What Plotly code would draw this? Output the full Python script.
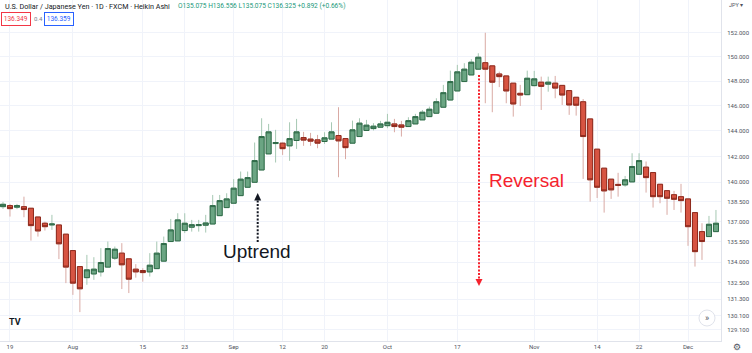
import pandas as pd
import plotly.graph_objects as go

# ---------------- data (Heikin Ashi, USD/JPY daily) ----------------
start_day = "2022-07-18"
n_bars = 103
dates = pd.bdate_range(start_day, periods=n_bars) + pd.Timedelta(hours=12)

opens = [138.14, 138.22, 138.10, 138.14, 138.02, 137.36, 136.89, 136.76, 136.76, 136.07,
         134.85, 133.67, 132.86, 133.13, 133.28, 133.63, 134.29, 134.66, 134.24, 133.48,
         133.38, 133.28, 133.52, 134.07, 135.52, 135.57, 136.34, 136.59, 136.71, 136.74,
         136.83, 137.46, 138.07, 138.40, 138.98, 139.62, 140.00, 140.95, 142.20, 143.01,
         143.04, 142.83, 143.25, 143.48, 143.36, 143.30, 143.17, 143.36, 143.64, 143.40,
         143.04, 143.56, 144.04, 144.19, 144.30, 144.42, 144.56, 144.48, 144.35, 144.56,
         144.88, 145.14, 145.41, 145.89, 146.47, 147.20, 147.96, 148.50, 148.97, 149.50,
         149.24, 148.58, 148.42, 147.83, 147.01, 146.90, 147.63, 147.91, 147.75, 147.83,
         147.65, 147.23, 146.69, 146.33, 144.96, 142.57, 141.09, 140.24, 139.84, 139.80,
         140.03, 140.62, 141.17, 140.75, 139.85, 139.36, 139.05, 138.90, 138.73, 137.69,
         136.26, 135.89, 136.26]
highs = [138.50, 138.35, 138.35, 138.90, 138.02, 137.36, 137.01, 137.52, 136.76, 136.07,
         134.85, 133.67, 134.53, 134.36, 135.03, 135.52, 135.15, 135.40, 134.24, 133.85,
         133.55, 134.66, 135.52, 135.89, 137.21, 137.64, 137.64, 137.14, 137.14, 137.52,
         139.03, 139.03, 139.16, 140.24, 140.83, 140.83, 143.09, 145.01, 144.56, 144.09,
         143.09, 144.69, 144.96, 143.93, 143.85, 143.69, 143.90, 144.69, 145.89, 143.40,
         144.82, 145.01, 144.88, 144.62, 144.80, 145.36, 144.96, 144.80, 145.09, 145.36,
         145.67, 145.94, 146.61, 147.69, 148.85, 149.32, 149.46, 149.79, 150.28, 151.98,
         149.24, 148.77, 148.42, 147.83, 147.69, 148.85, 148.83, 148.36, 148.36, 148.42,
         147.65, 147.23, 146.69, 146.55, 144.96, 142.57, 141.09, 140.24, 140.73, 140.49,
         142.25, 142.25, 141.61, 140.75, 139.85, 139.36, 139.34, 139.88, 138.73, 137.69,
         136.89, 137.44, 137.89]
lows = [137.97, 137.39, 137.95, 137.34, 135.59, 135.89, 136.34, 136.39, 134.22, 132.46,
        131.61, 130.37, 132.34, 132.70, 132.94, 133.63, 134.16, 132.03, 131.74, 132.86,
        132.57, 132.94, 133.52, 134.07, 135.52, 135.57, 136.15, 136.26, 136.26, 136.19,
        136.83, 137.46, 138.07, 138.40, 138.98, 139.62, 140.00, 140.95, 142.20, 141.53,
        142.12, 141.66, 142.59, 142.83, 142.83, 142.64, 142.98, 143.36, 140.39, 141.79,
        143.04, 143.56, 144.04, 144.04, 144.27, 144.22, 143.90, 143.56, 144.35, 144.56,
        144.88, 145.14, 145.41, 145.89, 146.47, 147.20, 147.96, 148.50, 148.97, 146.21,
        145.49, 147.51, 146.21, 145.14, 145.99, 146.90, 147.57, 145.67, 147.14, 146.61,
        146.07, 145.28, 145.22, 140.26, 138.52, 138.80, 137.69, 138.73, 138.90, 139.66,
        140.03, 140.62, 139.21, 138.07, 138.40, 137.52, 137.89, 137.69, 135.20, 133.67,
        134.16, 135.89, 136.26]
closes = [138.32, 137.99, 138.22, 137.92, 136.71, 136.31, 136.63, 136.83, 135.35, 133.63,
          132.46, 132.05, 133.43, 133.48, 133.97, 135.00, 134.95, 133.80, 132.75, 133.28,
          133.23, 133.77, 134.66, 135.37, 136.39, 137.14, 136.89, 136.78, 136.78, 136.91,
          138.22, 138.60, 138.73, 139.55, 140.24, 140.36, 141.68, 143.56, 143.93, 143.09,
          142.61, 143.40, 143.93, 143.28, 143.20, 143.04, 143.46, 143.93, 143.22, 142.69,
          144.09, 144.62, 144.46, 144.38, 144.56, 144.69, 144.35, 144.30, 144.82, 145.14,
          145.49, 145.73, 146.33, 147.06, 147.96, 148.75, 148.97, 149.54, 149.95, 148.97,
          147.91, 148.36, 147.20, 146.15, 146.87, 148.23, 148.18, 147.57, 147.91, 147.43,
          146.87, 146.07, 146.05, 143.56, 140.19, 139.62, 139.34, 139.42, 139.77, 140.19,
          141.22, 141.68, 140.36, 138.90, 138.90, 138.78, 138.70, 138.60, 136.63, 134.77,
          135.52, 136.81, 136.89]

y_tick_vals = [152, 150, 148, 146, 144, 142, 140, 138.5, 137, 135.5, 134, 132.5, 131.3, 130.1, 129.1]
y_tick_text = [f"{v:.3f}" for v in y_tick_vals]
x_tick_dates = ["2022-07-19", "2022-08-01", "2022-08-15", "2022-08-23", "2022-09-01",
                "2022-09-12", "2022-09-20", "2022-10-03", "2022-10-17", "2022-11-01",
                "2022-11-14", "2022-11-22", "2022-12-01"]
x_tick_text = ["19", "Aug", "15", "23", "Sep", "12", "20", "Oct", "17", "Nov", "14", "22", "Dec"]

# ---------------- style ----------------
UP_FILL, UP_LINE, UP_WICK = "#6ba583", "#2f6a48", "#a6c8b3"
DN_FILL, DN_LINE, DN_WICK = "#d75442", "#8e2a1d", "#d9aaa4"
GRID = "#f0f3fa"
AX = "#e0e3eb"
TXT = "#131722"
W, H = 752, 353
PL_W, PL_H = 721, 341  # plot area size in px


def px(x):
    return x / PL_W


def py(y):
    return 1 - y / PL_H


body_hi = [max(o, c) for o, c in zip(opens, closes)]
body_lo = [min(o, c) for o, c in zip(opens, closes)]

fig = go.Figure()
# wicks (light)
fig.add_trace(go.Candlestick(
    x=dates, open=opens, high=highs, low=lows, close=closes,
    increasing=dict(line=dict(color=UP_WICK, width=1), fillcolor=UP_WICK),
    decreasing=dict(line=dict(color=DN_WICK, width=1), fillcolor=DN_WICK),
    hoverinfo="skip", showlegend=False))
# bodies
fig.add_trace(go.Candlestick(
    x=dates, open=opens, high=body_hi, low=body_lo, close=closes,
    increasing=dict(line=dict(color=UP_LINE, width=1), fillcolor=UP_FILL),
    decreasing=dict(line=dict(color=DN_LINE, width=1), fillcolor=DN_FILL),
    showlegend=False))

x_start = dates[0] - pd.Timedelta(hours=10.3)
x_end = dates[-1] + pd.Timedelta(hours=17.3)

fig.update_layout(
    width=W, height=H,
    margin=dict(l=0, r=W - PL_W, t=0, b=H - PL_H),
    paper_bgcolor="white", plot_bgcolor="white",
    boxgap=0.15, boxgroupgap=0.15,
    showlegend=False,
    font=dict(family="Roboto, Arial, sans-serif", color=TXT),
    xaxis=dict(
        type="date", range=[x_start, x_end],
        rangebreaks=[dict(bounds=["sat", "mon"])],
        rangeslider=dict(visible=False),
        tickmode="array",
        tickvals=[pd.Timestamp(d) + pd.Timedelta(hours=12) for d in x_tick_dates],
        ticktext=x_tick_text,
        showgrid=True, gridcolor=GRID, gridwidth=1,
        showline=True, linecolor=AX, linewidth=1,
        ticks="", tickfont=dict(size=6, color="#50535e"),
        zeroline=False, fixedrange=True),
    yaxis=dict(
        type="log", side="right",
        range=[2.10829, 2.18959],
        tickmode="array", tickvals=y_tick_vals, ticktext=y_tick_text,
        showgrid=True, gridcolor=GRID, gridwidth=1,
        showline=True, linecolor=AX, linewidth=1,
        ticks="", ticklabelstandoff=4,
        tickfont=dict(size=6, color="#50535e"),
        zeroline=False, fixedrange=True),
)

shapes = []
# black dotted arrow (Uptrend)
shapes.append(dict(type="line", xref="paper", yref="paper",
                   x0=px(257.7), x1=px(257.7), y0=py(242), y1=py(200),
                   line=dict(color=TXT, width=2, dash="2px,1.6px")))
shapes.append(dict(type="path", xref="paper", yref="paper",
                   path=f"M {px(257.7)},{py(193)} L {px(254.2)},{py(200.5)} L {px(261.2)},{py(200.5)} Z",
                   fillcolor=TXT, line=dict(width=0)))
# red dotted arrow (Reversal)
RED = "#f5222d"
shapes.append(dict(type="line", xref="paper", yref="paper",
                   x0=px(479), x1=px(479), y0=py(75), y1=py(279),
                   line=dict(color=RED, width=2, dash="2px,1.6px")))
shapes.append(dict(type="path", xref="paper", yref="paper",
                   path=f"M {px(479)},{py(286)} L {px(475.5)},{py(279)} L {px(482.5)},{py(279)} Z",
                   fillcolor=RED, line=dict(width=0)))
# scroll button circle
shapes.append(dict(type="circle", xref="paper", yref="paper",
                   x0=px(699), x1=px(715), y0=py(326), y1=py(310),
                   fillcolor="white", line=dict(color="#e0e3eb", width=1)))
fig.update_layout(shapes=shapes)

ann = []
ann.append(dict(xref="paper", yref="paper", x=px(3), y=py(6.5), xanchor="left", yanchor="middle",
                text="U.S. Dollar / Japanese Yen · 1D · FXCM · Heikin Ashi", showarrow=False,
                font=dict(size=7.2, color=TXT)))
ann.append(dict(xref="paper", yref="paper", x=px(176), y=py(6.5), xanchor="left", yanchor="middle",
                text="O135.075 H136.556 L135.075 C136.325 +0.892 (+0.66%)", showarrow=False,
                font=dict(size=6.6, color="#22997a")))
ann.append(dict(xref="paper", yref="paper", x=px(16.3), y=py(19), xanchor="center", yanchor="middle",
                text="136.349", showarrow=False, bordercolor="#f23645", borderwidth=1, borderpad=1.8,
                bgcolor="white", font=dict(size=6.5, color="#f23645")))
ann.append(dict(xref="paper", yref="paper", x=px(38), y=py(19), xanchor="center", yanchor="middle",
                text="0.4", showarrow=False, font=dict(size=6, color="#787b86")))
ann.append(dict(xref="paper", yref="paper", x=px(59.3), y=py(19), xanchor="center", yanchor="middle",
                text="136.359", showarrow=False, bordercolor="#2962ff", borderwidth=1, borderpad=1.8,
                bgcolor="white", font=dict(size=6.5, color="#2962ff")))
ann.append(dict(xref="paper", yref="paper", x=px(257), y=py(251.5), xanchor="center", yanchor="middle",
                text="Uptrend", showarrow=False,
                font=dict(size=19, color=TXT, family="Liberation Sans, Arial, sans-serif")))
ann.append(dict(xref="paper", yref="paper", x=px(526.5), y=py(180.5), xanchor="center", yanchor="middle",
                text="Reversal", showarrow=False,
                font=dict(size=19, color=RED, family="Liberation Sans, Arial, sans-serif")))
ann.append(dict(xref="paper", yref="paper", x=px(727), y=py(5), xanchor="left", yanchor="middle",
                text="JPY ▾", showarrow=False, font=dict(size=5.5, color="#50535e")))
ann.append(dict(xref="paper", yref="paper", x=px(707), y=py(318), xanchor="center", yanchor="middle",
                text="»", showarrow=False, font=dict(size=9, color="#50535e")))
ann.append(dict(xref="paper", yref="paper", x=px(15), y=py(322), xanchor="center", yanchor="middle",
                text="<b>TV</b>", showarrow=False, font=dict(size=9, color=TXT)))
ann.append(dict(xref="paper", yref="paper", x=px(736.5), y=py(346.5), xanchor="center", yanchor="middle",
                text="⚙", showarrow=False, font=dict(size=9, color="#50535e", family="DejaVu Sans")))
fig.update_layout(annotations=ann)

fig.write_html("out.html")
